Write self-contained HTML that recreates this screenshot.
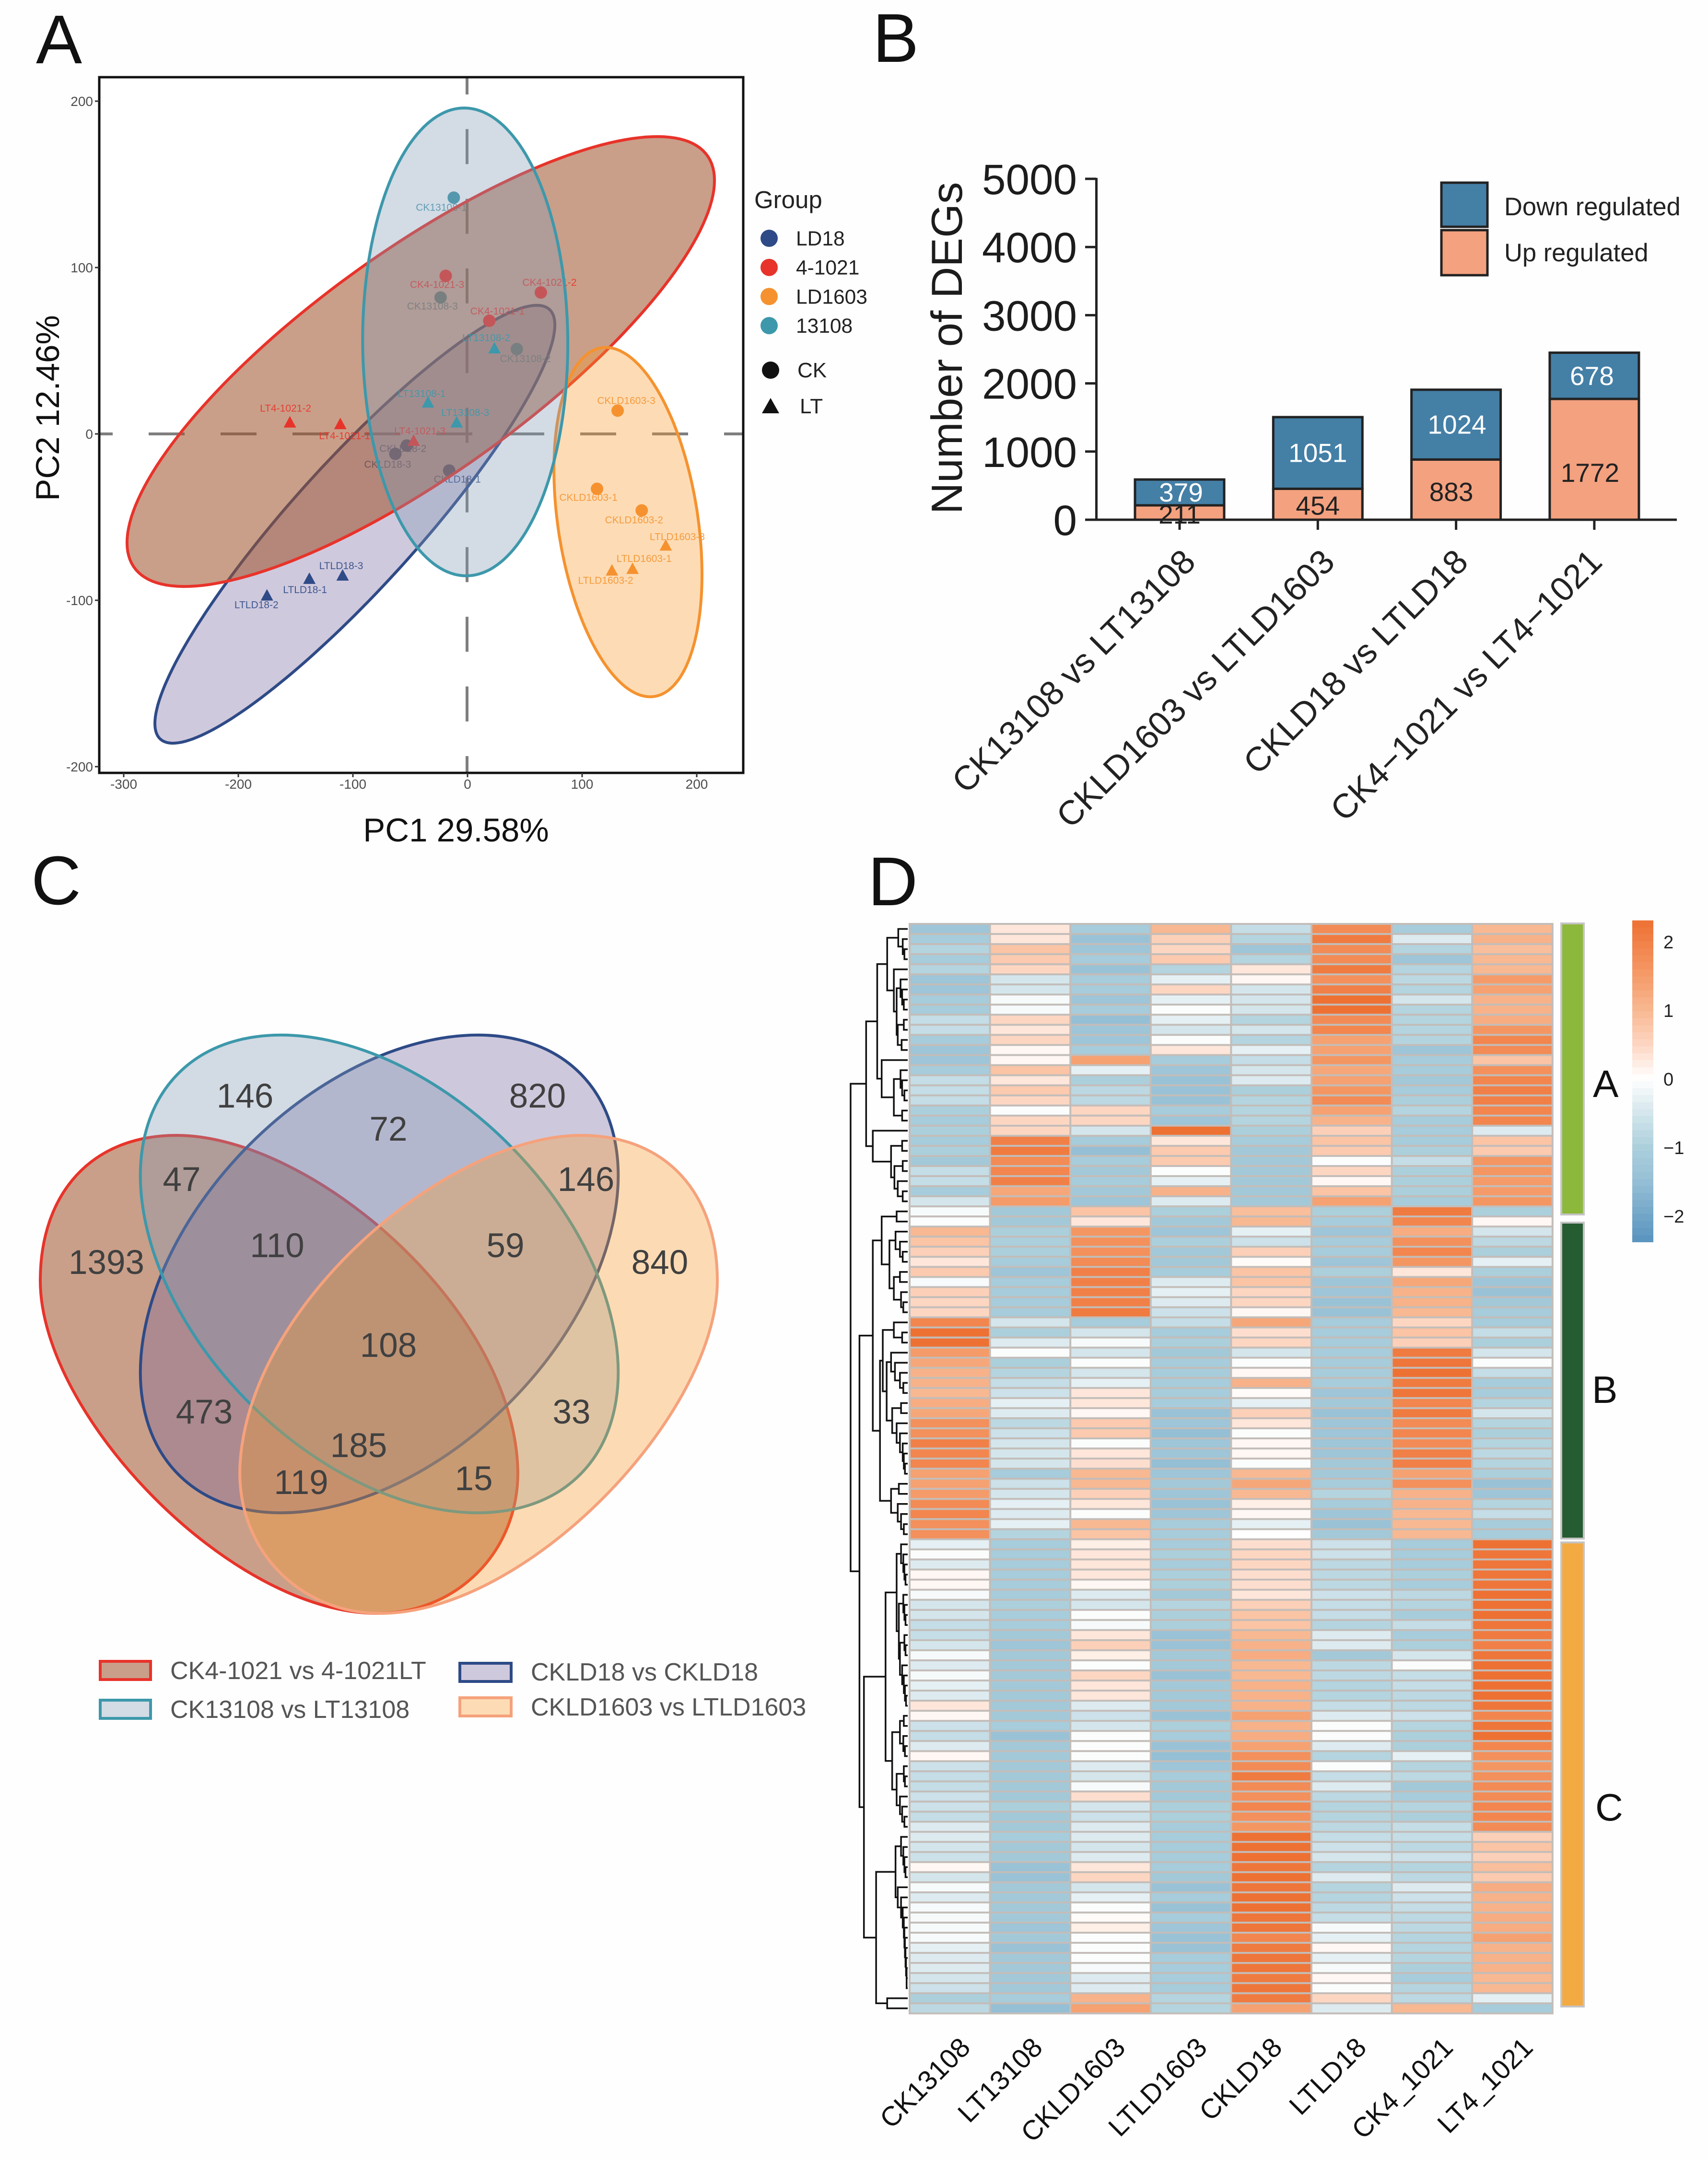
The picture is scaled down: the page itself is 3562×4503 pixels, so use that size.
<!DOCTYPE html>
<html lang="en">
<head>
<meta charset="utf-8">
<title>PCA, DEG counts, Venn diagram and heatmap figure</title>
<style>
html,body{margin:0;padding:0;background:#fefefe;}
svg{display:block;}
text{font-family:"Liberation Sans",Arial,sans-serif;}
</style>
</head>
<body>
<svg id="figure" xmlns="http://www.w3.org/2000/svg" width="3562" height="4503" viewBox="0 0 3562 4503">
  <rect x="0" y="0" width="3562" height="4503" fill="#fefefe"/>
  <text x="75" y="132" font-size="144" fill="#111">A</text>
  <text x="1820" y="129" font-size="144" fill="#111">B</text>
  <text x="65" y="1886" font-size="144" fill="#111">C</text>
  <text x="1810" y="1888" font-size="144" fill="#111">D</text>

  <g id="pca"></g>
  <g id="bars"></g>

  <g id="venn">
    <path d="M368 2368 C190 2368 84 2490 84 2671 C84 2950 480 3365 787 3365 C950 3365 1080 3240 1080 3071 C1075 2730 650 2368 368 2368 Z" fill="rgb(159,84,45)" fill-opacity="0.56" stroke="#e8332a" stroke-width="6"/>
    <ellipse cx="791" cy="2657" rx="592" ry="382" transform="rotate(-45 791 2657)" fill="rgb(118,100,158)" fill-opacity="0.35" stroke="#2e4a87" stroke-width="6"/>
    <ellipse cx="791" cy="2657" rx="592" ry="382" transform="rotate(45 791 2657)" fill="rgb(128,152,180)" fill-opacity="0.35" stroke="#3d98ab" stroke-width="6"/>
    <path d="M1212 2368 C1390 2368 1496 2490 1496 2671 C1496 2950 1100 3365 793 3365 C630 3365 500 3240 500 3071 C505 2730 930 2368 1212 2368 Z" fill="rgb(249,155,44)" fill-opacity="0.35" stroke="#f5a27c" stroke-width="6"/>
    <g font-size="71" fill="#404040" text-anchor="middle">
      <text x="511" y="2310">146</text>
      <text x="1121" y="2310">820</text>
      <text x="810" y="2379">72</text>
      <text x="379" y="2484">47</text>
      <text x="1222" y="2484">146</text>
      <text x="222" y="2657">1393</text>
      <text x="1376" y="2657">840</text>
      <text x="578" y="2622">110</text>
      <text x="1054" y="2622">59</text>
      <text x="810" y="2830">108</text>
      <text x="426" y="2969">473</text>
      <text x="1192" y="2969">33</text>
      <text x="748" y="3039">185</text>
      <text x="628" y="3116">119</text>
      <text x="988" y="3108">15</text>
    </g>
    <g font-size="52" fill="#555">
      <rect x="209" y="3465" width="105" height="38" fill="#c99f89" stroke="#e8332a" stroke-width="6"/>
      <text x="355" y="3502">CK4-1021 vs 4-1021LT</text>
      <rect x="209" y="3546" width="105" height="38" fill="#d3dbe5" stroke="#3d98ab" stroke-width="6"/>
      <text x="355" y="3583">CK13108 vs LT13108</text>
      <rect x="959" y="3469" width="107" height="38" fill="#cfc9dd" stroke="#2e4a87" stroke-width="6"/>
      <text x="1107" y="3505">CKLD18 vs CKLD18</text>
      <rect x="959" y="3541" width="107" height="38" fill="#fddcb5" stroke="#f5a27c" stroke-width="6"/>
      <text x="1107" y="3578">CKLD1603 vs LTLD1603</text>
    </g>
  </g>

  <g id="heat"></g>
</svg>

<script>
/* ---------- Panel A data ---------- */
const sampleNames = ["CK13108-1","CK13108-3","CK13108-2","LT13108-2","LT13108-1","LT13108-3",
  "CK4-1021-3","CK4-1021-2","CK4-1021-1","LT4-1021-2","LT4-1021-1","LT4-1021-3",
  "CKLD18-2","CKLD18-3","CKLD18-1","LTLD18-3","LTLD18-1","LTLD18-2",
  "CKLD1603-3","CKLD1603-1","CKLD1603-2","LTLD1603-3","LTLD1603-1","LTLD1603-2"];
const pc1Values = [-12,-23.5,43,23.5,-34.5,-9.5, -19,64,19,-155,-111,-47, -53,-63,-16,-109,-138,-175, 131,113,152,173,144,126];
const pc2Values = [142,82,51,51.5,19,7, 95,85,68,7,6,-4, -7,-12,-22,-85,-87,-97, 14,-33,-46,-67,-81,-82];
const pcaXTicks = [-300,-200,-100,0,100,200];
const pcaYTicks = [200,100,0,-100,-200];
const ellipseGroups = ["13108","4-1021","LD18","LD1603"];
const ellipseCentreX = [-2,-40.8,-98.3,140];
const ellipseCentreY = [55.3,43.5,-54.3,-53];
const ellipseSpreadX = [89.5,256.3,174.5,64.6];
const ellipseSpreadY = [140.6,135.2,131.6,105];
const ellipseCorrelation = [-0.01,0.805,0.91,-0.3];
const pcaLegendGroups = ["LD18","4-1021","LD1603","13108"];

/* ---------- Panel B data ---------- */
const comparisons = ["CK13108 vs LT13108","CKLD1603 vs LTLD1603","CKLD18 vs LTLD18","CK4\u22121021 vs LT4\u22121021"];
const upRegulated = [211,454,883,1772];
const downRegulated = [379,1051,1024,678];
const degTicks = [0,1000,2000,3000,4000,5000];

/* ---------- Panel D data ---------- */
const heatColumns = ["CK13108","LT13108","CKLD1603","LTLD1603","CKLD18","LTLD18","CK4_1021","LT4_1021"];
const heatLegendTicks = [2,1,0,-1,-2];
const heatRows = [
[-1.3,.3,-1.1,1,-.7,1.8,-1.1,1],
[-1.1,.3,-1.4,.6,-.9,2.1,-.4,1.1],
[-.9,.8,-1.3,.5,-1.3,1.8,-.9,.9],
[-1.1,.7,-1.1,.7,-.9,1.8,-1.3,1],
[-.9,.5,-1.4,-.9,.3,2.1,-.9,1],
[-1.3,-.5,-1.1,-.3,.1,1.7,-.8,1.5],
[-1.3,-.5,-1.1,.5,-.5,2,-.9,1.4],
[-1.1,-.1,-1.3,-.3,-.5,2.3,-.5,1.1],
[-1.1,-.1,-1.1,-.05,-.5,2.3,-.9,1.1],
[-.7,.5,-1.5,-.3,-.9,1.8,-.9,1.2],
[-.7,.3,-1.3,-.5,-.5,1.9,-.9,1.6],
[-1.1,.5,-1.3,-.05,-.9,1.4,-.9,1.9],
[-1.3,.1,-1.1,.3,-.3,1.4,-1.3,1.8],
[-1.3,.1,1.4,-1.1,-.7,1.6,-1.1,.8],
[-1.1,.8,-.3,-1.3,-.5,1.3,-1.1,1.7],
[-.7,.3,-1,-1.4,-.4,1.4,-1.2,1.9],
[-.7,.7,-.8,-1.4,-1,1.6,-1.1,2],
[-.7,.5,-.8,-1.4,-.9,1.8,-1,2],
[-1,-.05,.5,-1.1,-.9,1.4,-.9,1.9],
[-1.1,.5,.5,-1.3,-.9,1.1,-1.1,1.9],
[-1,.5,-.5,2.3,-1,.6,-1.1,-.4],
[-1.1,2,-1.1,.3,-1.1,.8,-1.1,.8],
[-1,2.1,-1.5,.7,-1.2,.7,-1,.7],
[-1.2,1.8,-1.1,.7,-1.2,-.05,-.7,1.6],
[-.7,1.9,-1.2,-.05,-1.2,.5,-1,1.6],
[-.7,2,-1.1,-.3,-1.2,.1,-1,1.5],
[-1.1,1.3,-1.2,1.1,-1.2,.8,-1,1.5],
[-.5,1.5,-1.3,-.4,-1.2,1.4,-1.1,1.6],
[-.1,-1.2,.8,-1,.9,-1,2.1,-1],
[-.05,-1.2,.3,-1.2,1,-1.1,1.9,.1],
[1,-1,1.6,-1.3,-.3,-1.3,1.2,-.5],
[.8,-1,1.7,-1,-.6,-1.1,1.7,-.8],
[.6,-1,1.7,-1.2,.6,-1.1,1.9,-1],
[.3,-1.1,1.8,-1.2,.05,-1.3,1.6,-.3],
[.7,-1.3,2,-1.1,.8,-1,.3,-1],
[-.1,-1.1,2,-.4,.8,-1.3,1.3,-1.3],
[.6,-1.1,2,-.3,.5,-1.3,1.1,-1.4],
[.5,-1.1,2,-.4,.5,-1.4,1.1,-1.2],
[.5,-1.1,2.1,-.6,.1,-1.4,1,-1.1],
[1.9,-.5,-1.1,-.7,1.3,-1.1,.5,-1.1],
[2.3,-1,-.5,-1.1,.4,-1.1,.8,-.7],
[2.3,-.4,-.1,-1,.5,-1.1,.6,-1],
[1.5,-.05,-.5,-1.2,-.5,-1.1,2.1,-.5],
[1.3,-1,-.05,-1.1,-.05,-1.1,2.2,-.05],
[1.1,-.9,-.5,-1.1,.1,-1.1,2.3,-.7],
[1.1,-.7,-.3,-1.1,1.1,-1.1,2.1,-1.1],
[1,-.6,.3,-1.1,.05,-1.3,2.2,-1.1],
[1.2,-.3,.3,-1.1,-.3,-1.2,1.9,-.9],
[1.3,-.4,.1,-1.4,.6,-1.4,2.1,-.5],
[1.7,-.8,.7,-1.3,.3,-1.3,1.8,-.9],
[1.7,-.6,.7,-1.5,-.05,-1.3,1.9,-1],
[2,-.5,-.05,-1.3,.1,-1.3,1.8,-.9],
[1.9,-.5,.3,-1.3,.1,-1.3,2,-.8],
[1.9,-.5,.4,-1.5,-.05,-1.2,2,-.9],
[1.4,-1.1,1,-1.3,1,-1.2,1.4,-1],
[1.4,-.6,1,-1.2,1.3,-1.1,1.7,-1.4],
[1.5,-.5,.6,-1.3,1,-.9,1.1,-1.3],
[1.8,-.3,.3,-1.4,.2,-1.1,1.1,-.9],
[1.9,-.4,-.05,-1.3,.1,-1.3,1,-.7],
[1.7,-.3,1,-1.1,-.3,-1.4,1,-1.1],
[1.7,-.9,.8,-1.1,0,-1.2,1,-1.1],
[-.3,-1.1,.2,-1.1,.4,-.6,-1.1,2.3],
[-.05,-1.1,.3,-1,.5,-.6,-1.1,2.2],
[-.4,-1.1,.3,-1.1,.5,-.8,-1.1,2.2],
[.1,-1.1,.3,-1,.4,-.8,-1,2.2],
[.1,-1.1,.1,-1,.4,-.8,-1.1,2.2],
[-.1,-1.1,-.4,-1.2,.3,-.6,-.8,2.3],
[-.5,-1,-.5,-.9,.6,-.7,-.9,2.3],
[-.5,-1.1,-.05,-1,.8,-.7,-1.1,2.3],
[-.7,-1.1,-.1,-1,.8,-.9,-.7,2.2],
[-.7,-1.2,.3,-1.4,1,-.4,-1.1,2.1],
[-.5,-1.3,.6,-1.4,1.1,-.4,-1,2],
[-.1,-1.2,.2,-1.2,1.2,-1.2,-.5,2.2],
[-.4,-1.2,-.05,-1.2,1,-.8,-.05,2.3],
[-.1,-1.2,.5,-1.4,1,-.8,-.7,2.3],
[-.3,-1.2,.3,-1.2,1.1,-.9,-.7,2.3],
[-.4,-1.2,.3,-1.2,1.1,-.9,-.8,2.3],
[.3,-1.2,-.4,-1.2,1.1,-.7,-.8,2.2],
[.1,-1.2,-.6,-1.4,1.4,-.4,-.6,1.9],
[-.6,-1.1,-.5,-1,1.1,-.05,-.9,2.2],
[-.7,-1.4,-.05,-1.1,1.2,-.05,-1,2.3],
[-.4,-1.2,-.05,-1.4,1.4,-.4,-1,1.9],
[.1,-1.2,-.05,-1.5,1.7,-.9,-.3,1.7],
[-.6,-1.2,-.4,-1.3,1.8,-.05,-.9,1.6],
[-.7,-1.2,-.5,-1.1,2.1,-.7,-.8,1.7],
[-.7,-1.2,-.1,-1.2,1.8,-.4,-1.2,1.8],
[-.6,-1.2,.4,-1.2,1.7,-.8,-1.1,1.8],
[-.6,-1,-.5,-1,1.9,-.9,-.9,1.9],
[-.7,-1.2,-.6,-1,1.7,-.9,-1,1.9],
[-.4,-1.2,-.4,-1.1,1.6,-.8,-.7,1.8],
[-.4,-1.1,-.4,-1.1,2.3,-.7,-.7,.6],
[-.5,-1.2,-.5,-1.1,2.3,-.6,-.8,.8],
[-.6,-1.2,-.4,-1.1,2.4,-.5,-.6,.6],
[.1,-1.4,.3,-1.1,2.2,-.9,-.9,.9],
[-.5,-1.4,.5,-1.2,2.3,-.4,-.8,.7],
[-.1,-1.2,-.5,-1.4,2.2,-.9,-.4,1.2],
[-.4,-1.2,-.3,-1.1,2.3,-.9,-.6,1.1],
[-.1,-1.2,-.05,-1.4,2.3,-.8,-.7,1.1],
[-.1,-1.2,.05,-1.1,2.2,-.7,-.8,1.2],
[-.1,-1.3,.2,-1.3,2.2,-.1,-.8,1.2],
[-.1,-1.2,-.05,-1.4,1.9,-.3,-.9,1.4],
[-.3,-1.4,-.05,-1.4,2.1,.1,-.9,1.1],
[-.4,-1.2,-.05,-1.1,2.2,-.3,-.9,1.1],
[-.4,-1.2,-.1,-1.1,2.2,-.1,-1,1.1],
[-.5,-1.2,-.4,-1.1,2.1,.1,-1.1,1],
[-.6,-1.2,-.4,-1.1,2.2,-.05,-.9,1],
[-1,-1.1,1.1,-.9,2.1,.5,-.8,-.3],
[-.8,-1.5,1.4,-.9,1.4,-.4,1,-1.1]
];
/* dendrogram: [merge height, left branch, right branch]; 0 is a leaf */
const dendrogram = [103,
  [75,
    [55,
      [37,[17,0,[9,0,[6,0,0]]],[25,0,[20,[13,0,[10,0,[7,0,0]]],[18,[7,0,0],[11,0,0]]]]],
      [47,0,[25,[13,0,[10,0,[6,0,0]]],[10,0,0]]]],
    [63,0,[30,[10,0,0],[24,[9,0,0],[18,0,[9,0,0]]]]]],
  [87,
    [63,
      [47,[20,0,0],[33,[22,0,[14,0,[9,0,0]]],[25,[14,0,0],[12,0,[8,0,0]]]]],
      [50,[45,[25,0,[10,0,0]],[38,[30,0,[23,0,[14,0,[8,0,0]]]],[28,[12,0,0],[20,0,[14,0,[9,0,[7,0,[5,0,0]]]]]]]],[30,[16,0,0],[18,0,[12,0,[7,0,0]]]]]],
    [79,
      [40,
        [20,[12,0,[8,0,[6,0,[4,0,0]]]],[16,[8,0,[6,0,[4,0,0]]],[14,[6,0,[4,0,0]],[10,0,[7,0,[5,0,[3,0,0]]]]]]],
        [28,[14,[7,0,0],[8,0,[5,0,0]]],[20,[7,0,[5,0,0]],[14,0,[10,0,[6,0,0]]]]]],
      [57,
        [22,[12,0,[8,0,[6,0,[4,0,0]]]],[18,0,[12,0,[9,0,[7,0,[6,0,[5,0,[4,0,[3,0,[2,0,[2,0,0]]]]]]]]]]],
        [37,0,0]]]]];

/* ---------- layout (not data) ---------- */
const NS = "http://www.w3.org/2000/svg";
const groupStyle = {
  "LD18":  {line:"#2e4a87", fill:"rgb(118,100,158)", op:0.35},
  "4-1021":{line:"#e8332a", fill:"rgb(159,84,45)",  op:0.56},
  "LD1603":{line:"#f5922f", fill:"rgb(249,155,44)", op:0.35},
  "13108": {line:"#3d98ab", fill:"rgb(128,152,180)",op:0.35}
};
const sampleLabelShiftX = [-26,-17,18,-17,-13,18, -18,18,17,-9,9,13, -8,-16,17,-3,-9,-22, 18,-18,-16,24,24,-13];
const sampleLabelShiftY = [20,18,20,-22,-18,-20, 18,-21,-20,-29,25,-20, 6,22,18,-20,23,20, -21,18,20,-18,-21,21];
const upLabelShiftY = [4,3,5,28];
const upLabelShiftX = [0,0,-10,-9];
const downLabelShiftX = [3,0,2,-5];
const catLabelShiftX = [37,39,29,20];
const heatLabelShiftX = [46,29,34,37,26,34,47,46];

function make(tag, attrs, parent, txt){
  const e = document.createElementNS(NS, tag);
  for (const k in attrs) e.setAttribute(k, attrs[k]);
  if (txt !== undefined) e.textContent = txt;
  parent.appendChild(e);
  return e;
}
function sampleGroup(name){
  if (name.indexOf("1603") >= 0) return "LD1603";
  if (name.indexOf("13108") >= 0) return "13108";
  if (name.indexOf("LD18") >= 0) return "LD18";
  return "4-1021";
}

/* ---------- Panel A ---------- */
const pcaRoot = document.getElementById("pca");
const pcaX = v => 975 + 2.39 * v;
const pcaY = v => 905 - 3.47 * v;

const pcaBg = make("rect",{x:207,y:161,width:1343,height:1451,fill:"#ffffff"},pcaRoot);



const hDash = make("line",{x1:207,x2:1550,y1:905,y2:905,stroke:"#7f7f7f","stroke-width":6,"stroke-dasharray":"75 75","stroke-dashoffset":47},pcaRoot);


const vDash = make("line",{x1:974,x2:974,y1:161,y2:1612,stroke:"#7f7f7f","stroke-width":6,"stroke-dasharray":"73 72.3","stroke-dashoffset":37},pcaRoot);



function drawEllipse(g){
  const i = ellipseGroups.indexOf(g), s = groupStyle[g];
  const r = ellipseCorrelation[i], q = Math.sqrt(1 - r * r);
  let d = "";
  for (let k = 0; k < 180; k++){
    const t = k / 180 * 2 * Math.PI;
    const vx = ellipseCentreX[i] + ellipseSpreadX[i] * Math.cos(t);
    const vy = ellipseCentreY[i] + ellipseSpreadY[i] * (r * Math.cos(t) + q * Math.sin(t));
    d += (k ? "L" : "M") + pcaX(vx).toFixed(1) + " " + pcaY(vy).toFixed(1);
  }
  const e = make("path",{d:d+"Z",fill:s.fill,"fill-opacity":s.op,stroke:s.line,"stroke-width":6},pcaRoot);
  
  
}
function drawSamples(test){
  sampleNames.forEach((name,i)=>{
    if (!test(name)) return;
    const c = groupStyle[sampleGroup(name)].line;
    const px = pcaX(pc1Values[i]), py = pcaY(pc2Values[i]);
    let m;
    if (name.indexOf("CK") === 0){
      m = make("circle",{cx:px,cy:py,r:13,fill:c},pcaRoot);
    } else {
      m = make("polygon",{points:(px-13)+","+(py+11)+" "+px+","+(py-13)+" "+(px+13)+","+(py+11),fill:c},pcaRoot);
    }
    
    
    const t = make("text",{x:px+sampleLabelShiftX[i],y:py+sampleLabelShiftY[i]+7,"font-size":21,"text-anchor":"middle",fill:c,"fill-opacity":0.9},pcaRoot,name);
    
    
  });
}
/* paint order: navy, teal circles, red, orange, teal ellipse, teal triangles */
drawEllipse("LD18");
drawSamples(n => sampleGroup(n) === "LD18");
drawSamples(n => sampleGroup(n) === "13108" && n.indexOf("CK") === 0);
drawEllipse("4-1021");
drawSamples(n => sampleGroup(n) === "4-1021");
drawEllipse("LD1603");
drawSamples(n => sampleGroup(n) === "LD1603");
drawEllipse("13108");
drawSamples(n => sampleGroup(n) === "13108" && n.indexOf("LT") === 0);

const pcaFrame = make("rect",{x:207,y:161,width:1343,height:1451,fill:"none",stroke:"#111","stroke-width":5},pcaRoot);



pcaXTicks.forEach(v=>{
  const tick = make("line",{x1:pcaX(v),x2:pcaX(v),y1:1612,y2:1621,stroke:"#333","stroke-width":3},pcaRoot);
  
  
  const lab = make("text",{x:pcaX(v),y:1645,"font-size":28,"text-anchor":"middle",fill:"#4d4d4d"},pcaRoot,String(v));
  
  
});
pcaYTicks.forEach(v=>{
  const tick = make("line",{x1:198,x2:207,y1:pcaY(v),y2:pcaY(v),stroke:"#333","stroke-width":3},pcaRoot);
  
  
  const lab = make("text",{x:194,y:pcaY(v)+10,"font-size":28,"text-anchor":"end",fill:"#4d4d4d"},pcaRoot,String(v));
  
  
});
const pc1Title = make("text",{x:951,y:1755,"font-size":69,"text-anchor":"middle",fill:"#111"},pcaRoot,"PC1 29.58%");


const pc2Title = make("text",{x:0,y:0,"font-size":69,"text-anchor":"middle",fill:"#111",transform:"translate(123 851) rotate(-90)"},pcaRoot,"PC2 12.46%");



const groupTitle = make("text",{x:1573,y:434,"font-size":51,fill:"#222"},pcaRoot,"Group");


pcaLegendGroups.forEach((g,i)=>{
  const cy = 497 + 60.7 * i;
  const dot = make("circle",{cx:1604,cy:cy,r:18,fill:groupStyle[g].line},pcaRoot);
  
  
  const lab = make("text",{x:1660,y:cy+15,"font-size":42.5,fill:"#222"},pcaRoot,g);
  
  
});
const ckDot = make("circle",{cx:1607,cy:772,r:18,fill:"#111"},pcaRoot);


const ckLab = make("text",{x:1663,y:787,"font-size":44,fill:"#222"},pcaRoot,"CK");


const ltTri = make("polygon",{points:"1589,862 1607,830 1625,862",fill:"#111"},pcaRoot);


const ltLab = make("text",{x:1668,y:862,"font-size":44,fill:"#222"},pcaRoot,"LT");



/* ---------- Panel B ---------- */
const barsRoot = document.getElementById("bars");
const degY = v => 1084 - 0.1422 * v;
const catX = i => 2460 + 288.3 * i;
const BAR_W = 186;

comparisons.forEach((name,i)=>{
  const x = catX(i) - BAR_W / 2;
  const up = make("rect",{x:x,y:degY(upRegulated[i]),width:BAR_W,height:degY(0)-degY(upRegulated[i]),fill:"#f4a17f",stroke:"#222","stroke-width":5},barsRoot);
  
  
  const top = upRegulated[i] + downRegulated[i];
  const down = make("rect",{x:x,y:degY(top),width:BAR_W,height:degY(upRegulated[i])-degY(top),fill:"#447fa6",stroke:"#222","stroke-width":5},barsRoot);
  
  
  const upText = make("text",{x:catX(i)+upLabelShiftX[i],y:degY(upRegulated[i]/2)+upLabelShiftY[i]+19,"font-size":55,"text-anchor":"middle",fill:"#222"},barsRoot,String(upRegulated[i]));
  
  
  const downText = make("text",{x:catX(i)+downLabelShiftX[i],y:degY(upRegulated[i]+downRegulated[i]/2)+19,"font-size":55,"text-anchor":"middle",fill:"#fff"},barsRoot,String(downRegulated[i]));
  
  
  const tick = make("line",{x1:catX(i),x2:catX(i),y1:1084,y2:1105,stroke:"#222","stroke-width":5},barsRoot);
  
  
  const lx = catX(i) + catLabelShiftX[i];
  const lab = make("text",{x:0,y:0,"font-size":71,"text-anchor":"end",fill:"#222",transform:"translate("+lx+" 1176) rotate(-45)"},barsRoot,name);
  
  
});
const yAxisLine = make("line",{x1:2286.5,x2:2286.5,y1:degY(5000)-2,y2:degY(0),stroke:"#222","stroke-width":5},barsRoot);


const xAxisLine = make("line",{x1:2263,x2:3497,y1:degY(0),y2:degY(0),stroke:"#222","stroke-width":5},barsRoot);


degTicks.forEach(v=>{
  const tick = make("line",{x1:2263,x2:2286,y1:degY(v),y2:degY(v),stroke:"#222","stroke-width":5},barsRoot);
  
  
  const lab = make("text",{x:2246,y:degY(v)+32,"font-size":89,"text-anchor":"end",fill:"#1c1c1c"},barsRoot,String(v));
  
  
});
const degTitle = make("text",{x:0,y:0,"font-size":91,"text-anchor":"middle",fill:"#1c1c1c",transform:"translate(2006 726) rotate(-90)"},barsRoot,"Number of DEGs");


const swDown = make("rect",{x:3006,y:381,width:96,height:92,fill:"#447fa6",stroke:"#222","stroke-width":5},barsRoot);


const swUp = make("rect",{x:3006,y:480,width:96,height:94,fill:"#f4a17f",stroke:"#222","stroke-width":5},barsRoot);


const txDown = make("text",{x:3137,y:449,"font-size":52.5,fill:"#222"},barsRoot,"Down regulated");


const txUp = make("text",{x:3137,y:545,"font-size":52.5,fill:"#222"},barsRoot,"Up regulated");



/* ---------- Panel D ---------- */
const heatRoot = document.getElementById("heat");
const GRID_L = 1897, GRID_T = 1927, COL_W = 167.6, ROW_H = 21.04;
const colX = i => GRID_L + COL_W * i;
const rowY = i => GRID_T + ROW_H * i;
const colourStops = [
  [-2.38,[89,147,191]],[-1.5,[149,191,213]],[-1,[172,207,220]],[-.5,[212,230,236]],
  [0,[255,255,255]],[.5,[253,214,194]],[1,[248,184,146]],[1.5,[245,155,105]],[2.31,[238,112,51]]];
function heatColour(v){
  if (v <= colourStops[0][0]) return "rgb("+colourStops[0][1].join(",")+")";
  for (let i = 1; i < colourStops.length; i++){
    if (v <= colourStops[i][0]){
      const a = colourStops[i-1], b = colourStops[i];
      const f = (v - a[0]) / (b[0] - a[0]);
      return "rgb(" + a[1].map((c,k)=>Math.round(c + (b[1][k]-c)*f)).join(",") + ")";
    }
  }
  return "rgb("+colourStops[colourStops.length-1][1].join(",")+")";
}
const gridBg = make("rect",{x:GRID_L-2,y:GRID_T-2,width:COL_W*heatColumns.length+4,height:ROW_H*heatRows.length+4,fill:"#c3bdb9"},heatRoot);


heatRows.forEach((row,r)=>{
  row.forEach((v,c)=>{
    const cell = make("rect",{x:colX(c)+2,y:rowY(r)+2,width:COL_W-4,height:ROW_H-4,fill:heatColour(v)},heatRoot);
    
    
  });
});
heatColumns.forEach((name,i)=>{
  const lx = colX(i) + COL_W / 2 + heatLabelShiftX[i];
  const lab = make("text",{x:0,y:0,"font-size":57,"text-anchor":"end",fill:"#111",transform:"translate("+lx+" 4274) rotate(-45)"},heatRoot,name);
  
  
});

/* dendrogram drawn from the merge tree */
const LEAF_X = 1893;
const dendX = h => LEAF_X - 1.156 * h;
let dendD = "", leafIndex = 0;
function walk(node){
  if (node === 0){
    const y = rowY(leafIndex) + ROW_H / 2;
    leafIndex++;
    return {x:LEAF_X, y:y};
  }
  const a = walk(node[1]), b = walk(node[2]);
  const x = dendX(node[0]);
  dendD += "M"+a.x.toFixed(1)+" "+a.y.toFixed(1)+"H"+x.toFixed(1)+"V"+b.y.toFixed(1)+"H"+b.x.toFixed(1);
  return {x:x, y:(a.y+b.y)/2};
}
walk(dendrogram);
const dend = make("path",{d:dendD,fill:"none",stroke:"#111","stroke-width":3.5},heatRoot);



/* cluster annotation bars */
const clusterBarA = make("rect",{x:3256,y:1926,width:47,height:607,fill:"#8cb83b",stroke:"#c4c4c4","stroke-width":4},heatRoot);


const clusterBarB = make("rect",{x:3256,y:2550,width:47,height:659,fill:"#265c32",stroke:"#c4c4c4","stroke-width":4},heatRoot);


const clusterBarC = make("rect",{x:3256,y:3217,width:47,height:968,fill:"#f4aa42",stroke:"#c4c4c4","stroke-width":4},heatRoot);


const clusterA = make("text",{x:3322,y:2288,"font-size":80,fill:"#111"},heatRoot,"A");


const clusterB = make("text",{x:3320,y:2926,"font-size":80,fill:"#111"},heatRoot,"B");


const clusterC = make("text",{x:3327,y:3797,"font-size":80,fill:"#111"},heatRoot,"C");



/* colour legend */
const LEG_TOP = 2.31, LEG_BOT = -2.38, LEG_BANDS = 46;
const legY = v => 2250 - 143 * v;
for (let i = 0; i < LEG_BANDS; i++){
  const hi = LEG_TOP - (LEG_TOP - LEG_BOT) * i / LEG_BANDS;
  const lo = LEG_TOP - (LEG_TOP - LEG_BOT) * (i + 1) / LEG_BANDS;
  const band = make("rect",{x:3404,y:legY(hi),width:44,height:legY(lo)-legY(hi)+0.6,fill:heatColour((hi+lo)/2)},heatRoot);
  
  
}
heatLegendTicks.forEach(v=>{
  const lab = make("text",{x:3469,y:legY(v)+14,"font-size":38,fill:"#222"},heatRoot,String(v).replace("-","\u2212"));
  
  
});
</script>
</body>
</html>
